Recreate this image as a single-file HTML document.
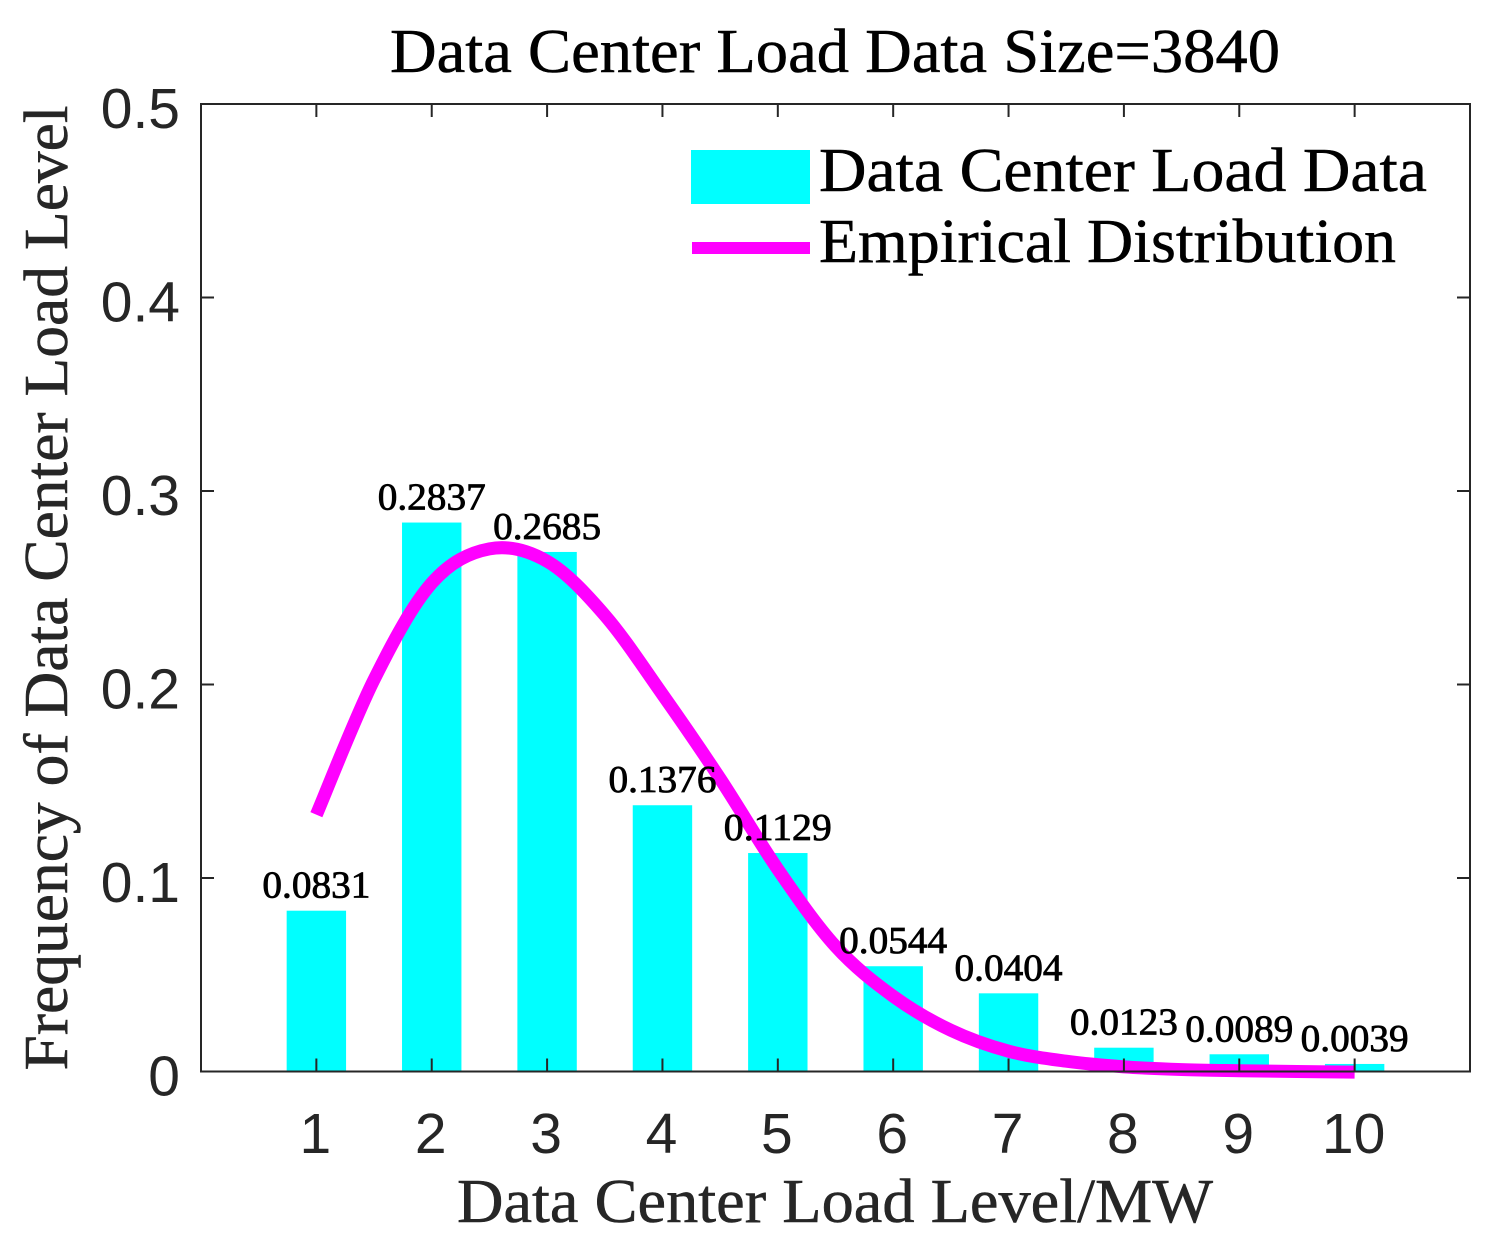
<!DOCTYPE html>
<html lang="en">
<head>
<meta charset="utf-8">
<title>Data Center Load Data Size=3840</title>
<style>
html,body{margin:0;padding:0;background:#fff;width:1502px;height:1243px;overflow:hidden}
svg{display:block}
.serif{font-family:"Liberation Serif",serif}
.sans{font-family:"Liberation Sans",sans-serif;fill:#262626}
</style>
</head>
<body>
<svg id="chart" xmlns="http://www.w3.org/2000/svg" width="1502" height="1243" viewBox="0 0 1502 1243">
  <rect x="0" y="0" width="1502" height="1243" fill="#fff"/>
  <text class="serif" x="835" y="72" font-size="62" text-anchor="middle" textLength="890" lengthAdjust="spacingAndGlyphs" fill="#000" stroke="#000" stroke-width="0.5">Data Center Load Data Size=3840</text>
  <g id="bars"></g>
  <path id="curve" fill="none" stroke="#ff00ff" stroke-width="13" stroke-linejoin="round" stroke-linecap="butt"></path>
  <g id="bar-labels"></g>
  <g id="axes"></g>
  <text class="serif" x="835" y="1222" font-size="62" text-anchor="middle" textLength="756" lengthAdjust="spacingAndGlyphs" fill="#262626" stroke="#262626" stroke-width="0.5">Data Center Load Level/MW</text>
  <text class="serif" transform="translate(67,588) rotate(-90)" x="0" y="0" font-size="62" text-anchor="middle" textLength="965" lengthAdjust="spacingAndGlyphs" fill="#262626" stroke="#262626" stroke-width="0.5">Frequency of Data Center Load Level</text>
  <g>
    <rect x="691" y="150" width="119" height="54" fill="#00ffff"/>
    <text class="serif" x="819" y="191" font-size="62" textLength="608" lengthAdjust="spacingAndGlyphs" fill="#000" stroke="#000" stroke-width="0.5">Data Center Load Data</text>
    <rect x="692" y="242" width="118" height="12" fill="#ff00ff"/>
    <text class="serif" x="819" y="262" font-size="62" textLength="577" lengthAdjust="spacingAndGlyphs" fill="#000" stroke="#000" stroke-width="0.5">Empirical Distribution</text>
  </g>
</svg>
<script>
// Chart data
const categories = [1, 2, 3, 4, 5, 6, 7, 8, 9, 10];
const barValues = [0.0831, 0.2837, 0.2685, 0.1376, 0.1129, 0.0544, 0.0404, 0.0123, 0.0089, 0.0039];
const barLabels = ["0.0831", "0.2837", "0.2685", "0.1376", "0.1129", "0.0544", "0.0404", "0.0123", "0.0089", "0.0039"];
const curveX = [1, 1.5, 2, 2.5, 3, 3.5, 4, 4.5, 5, 5.5, 6, 6.5, 7, 7.5, 8, 8.5, 9, 9.5, 10];
const curveY = [0.1327, 0.2025, 0.2524, 0.2701, 0.2637, 0.2358, 0.1949, 0.1513, 0.1045, 0.0647, 0.0389, 0.0213, 0.0105, 0.0053, 0.0024, 0.001, 0.0004, 0, -0.0003];
const xTicks = [1, 2, 3, 4, 5, 6, 7, 8, 9, 10];
const xTickLabels = ["1", "2", "3", "4", "5", "6", "7", "8", "9", "10"];
const yTicks = [0, 0.1, 0.2, 0.3, 0.4, 0.5];
const yTickLabels = ["0", "0.1", "0.2", "0.3", "0.4", "0.5"];

const NS = 'http://www.w3.org/2000/svg';
const plot = { left: 201, right: 1470, top: 104, bottom: 1071.5 };
const xMin = 0, xMax = 11, yMin = 0, yMax = 0.5;
const barWidth = 0.515, tickLen = 13;

function xScale(v) { return plot.left + (v - xMin) / (xMax - xMin) * (plot.right - plot.left); }
function yScale(v) { return plot.bottom - (v - yMin) / (yMax - yMin) * (plot.bottom - plot.top); }
function make(tag, attrs, parent) {
  const el = document.createElementNS(NS, tag);
  for (const k in attrs) el.setAttribute(k, attrs[k]);
  parent.appendChild(el);
  return el;
}

const barsG = document.getElementById('bars');
const labelsG = document.getElementById('bar-labels');
categories.forEach(function (c, i) {
  const x0 = xScale(c - barWidth / 2), x1 = xScale(c + barWidth / 2), y = yScale(barValues[i]);
  const bar = make('rect', { x: x0, y: y, width: x1 - x0, height: plot.bottom - y, fill: '#00ffff' }, barsG);
  
  
  const t = make('text', {
    x: xScale(c), y: y - 13, 'font-size': 38, 'text-anchor': 'middle', textLength: 108,
    lengthAdjust: 'spacingAndGlyphs', fill: '#000', stroke: '#000', 'stroke-width': 0.8, class: 'serif'
  }, labelsG);
  
  
  t.textContent = barLabels[i];
});

// Smooth Catmull-Rom path through the curve samples
(function () {
  const pts = curveX.map(function (x, i) { return [xScale(x), yScale(curveY[i])]; });
  let d = 'M' + pts[0][0] + ' ' + pts[0][1];
  for (let i = 0; i < pts.length - 1; i++) {
    const p0 = pts[Math.max(i - 1, 0)], p1 = pts[i], p2 = pts[i + 1], p3 = pts[Math.min(i + 2, pts.length - 1)];
    d += ' C' + (p1[0] + (p2[0] - p0[0]) / 6) + ' ' + (p1[1] + (p2[1] - p0[1]) / 6) +
         ' ' + (p2[0] - (p3[0] - p1[0]) / 6) + ' ' + (p2[1] - (p3[1] - p1[1]) / 6) +
         ' ' + p2[0] + ' ' + p2[1];
  }
  document.getElementById('curve').setAttribute('d', d);
})();

// Axes
const axesG = document.getElementById('axes');
const axisStyle = { stroke: '#262626', 'stroke-width': 2, fill: 'none' };
const box = make('rect', Object.assign({ x: plot.left, y: plot.top, width: plot.right - plot.left, height: plot.bottom - plot.top }, axisStyle), axesG);



xTicks.forEach(function (v, i) {
  const x = xScale(v);
  const b = make('line', Object.assign({ x1: x, x2: x, y1: plot.bottom, y2: plot.bottom - tickLen }, axisStyle), axesG);
  
  
  const t = make('line', Object.assign({ x1: x, x2: x, y1: plot.top, y2: plot.top + tickLen }, axisStyle), axesG);
  
  
  const lab = make('text', { x: x - 1, y: 1153, 'font-size': 57, 'text-anchor': 'middle', class: 'sans' }, axesG);
  
  
  lab.textContent = xTickLabels[i];
});

yTicks.forEach(function (v, i) {
  const y = yScale(v);
  const l = make('line', Object.assign({ x1: plot.left, x2: plot.left + tickLen, y1: y, y2: y }, axisStyle), axesG);
  
  
  const r = make('line', Object.assign({ x1: plot.right, x2: plot.right - tickLen, y1: y, y2: y }, axisStyle), axesG);
  
  
  const lab = make('text', { x: 180, y: y + 24, 'font-size': 57, 'text-anchor': 'end', class: 'sans' }, axesG);
  
  
  lab.textContent = yTickLabels[i];
});
</script>
</body>
</html>
